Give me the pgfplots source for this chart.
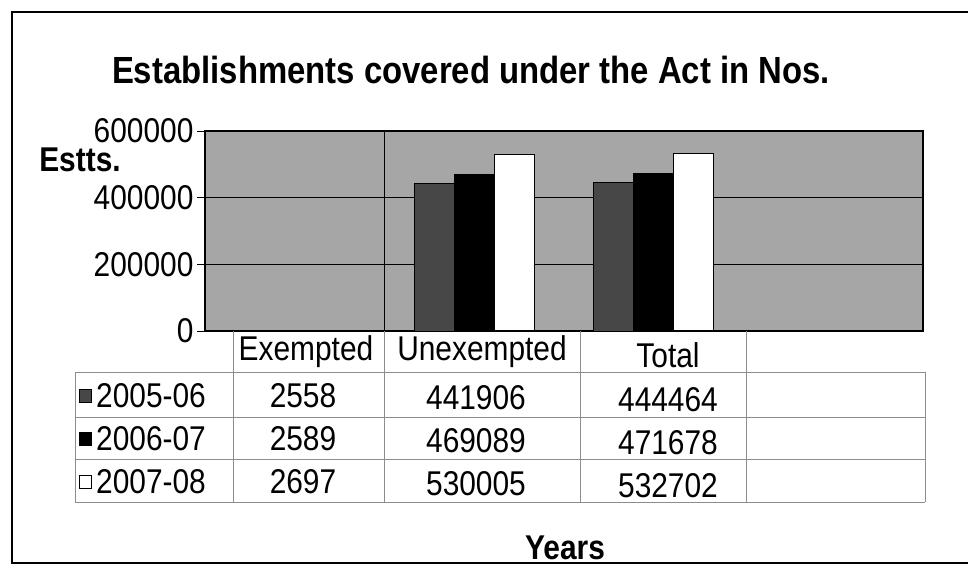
\documentclass[border=0pt]{standalone}
\usepackage{graphicx}
\usepackage{pgfplots}
\pgfplotsset{compat=1.18}
\usepackage{fontspec}
\setmainfont{Liberation Sans}
\newcommand{\T}[1]{\scalebox{1}[1.15]{#1}}
\begin{document}
\begin{tikzpicture}[x=1bp,y=-1bp]
\useasboundingbox (0,0) rectangle (968,575);
\fill[white] (0,0) rectangle (968,575);
\draw[line width=1.5bp] (990,12) -- (12,12) -- (12,563) -- (990,563);
\node[font=\fontsize{33}{36}\selectfont\bfseries] at (471,70) {\T{Establishments covered under the Act in Nos.}};
\begin{axis}[
  at={(205bp,-331bp)}, anchor=south west,
  scale only axis, width=718bp, height=200bp,
  xmin=-0.5, xmax=3.5, ymin=0, ymax=600000,
  axis background/.style={fill=black!35},
  ybar=0pt, bar width=40bp,
  xtick=\empty,
  ytick={0,200000,400000,600000}, ytick pos=left,
  scaled y ticks=false,
  yticklabel={\T{\pgfmathprintnumber[fixed,1000 sep={}]{\tick}}},
  /pgf/number format/assume math mode=true,
  tick label style={font=\fontsize{30}{32}\selectfont},
  ymajorgrids, major grid style={black, line width=0.6bp},
  tick style={black, line width=0.6bp}, tick align=outside, major tick length=8bp,
  axis line style={black, line width=1.2bp},
  extra x ticks={0.5}, extra x tick labels={},
  extra x tick style={grid=major, major tick length=0pt},
]
\addplot[fill=black!72, draw=black, line width=1bp] coordinates {(0,2558) (1,441906) (2,444464)};
\addplot[fill=black, draw=black, line width=1bp] coordinates {(0,2589) (1,469089) (2,471678)};
\addplot[fill=white, draw=black, line width=1.2bp] coordinates {(0,2697) (1,530005) (2,532702)};
\end{axis}
\begin{scope}[draw=black!45, line width=0.7bp]
\draw (75,372) -- (925,372);
\draw (75,417) -- (925,417);
\draw (75,459) -- (925,459);
\draw (75,502) -- (925,502);
\draw (75,372) -- (75,502);
\draw (925,372) -- (925,502);
\foreach \x in {233,384,580,746} \draw (\x,331) -- (\x,502);
\end{scope}
\begin{scope}[every node/.style={font=\fontsize{30}{32}\selectfont, inner sep=0pt}]
\node at (306,352) {\T{Exempted}};
\node at (482,352) {\T{Unexempted}};
\node at (668,355) {\T{Total}};
\filldraw[fill=black!72, draw=black, line width=0.6bp] (79,389) rectangle (91,402);
\filldraw[fill=black, draw=black, line width=0.6bp] (79,432) rectangle (91,445);
\filldraw[fill=white, draw=black, line width=1bp] (79,475) rectangle (91,488);
\node[anchor=west] at (96,396) {\T{2005-06}};
\node[anchor=west] at (96,439) {\T{2006-07}};
\node[anchor=west] at (96,482) {\T{2007-08}};
\node at (303,396) {\T{2558}};
\node at (476,398) {\T{441906}};
\node at (668,400) {\T{444464}};
\node at (303,439) {\T{2589}};
\node at (476,441) {\T{469089}};
\node at (668,443) {\T{471678}};
\node at (303,482) {\T{2697}};
\node at (476,484) {\T{530005}};
\node at (668,486) {\T{532702}};
\node[font=\fontsize{30}{32}\selectfont\bfseries] at (80,160) {\T{Estts.}};
\node[font=\fontsize{30}{32}\selectfont\bfseries] at (565,548) {\T{Years}};
\end{scope}
\end{tikzpicture}
\end{document}
